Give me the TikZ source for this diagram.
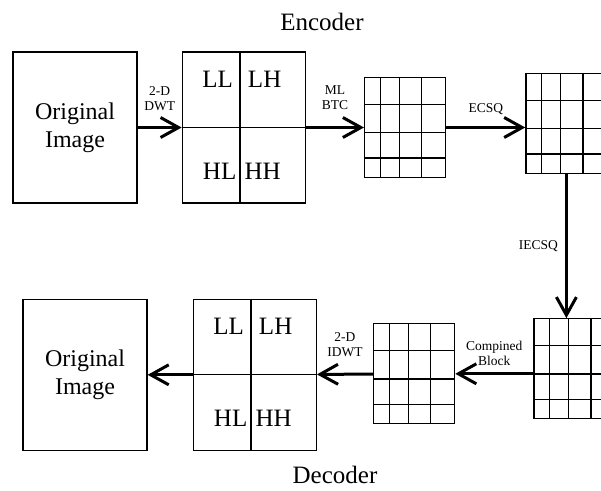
\documentclass[tikz,border=0pt]{standalone}
\usepackage{fontspec}
\setmainfont{Liberation Serif}
\usetikzlibrary{positioning,arrows.meta,calc}

\begin{document}
\begin{tikzpicture}[x=1pt, y=1pt, node distance=40pt,
    img node/.style={rectangle, draw, line width=1.3pt, minimum width=124pt, minimum height=151pt, align=center, font=\fontsize{24}{28}\selectfont},
    band node/.style={rectangle, draw, line width=1.3pt, minimum width=123pt, minimum height=151pt},
    grid node/.style={rectangle, draw, line width=1.3pt, minimum width=81pt, minimum height=100pt},
    flow/.style={-{Straight Barb[length=18pt,width=20pt]}, line width=3pt},
    step label/.style={font=\fontsize{13.5}{15}\selectfont, align=center, inner sep=1pt}]
            \tikzstyle{every node}=[font=\fontsize{25}{30}\selectfont]
            \useasboundingbox (0,0) rectangle (601,-490);

              % encoder row
              \node[img node] (orig1) at (75,-127.5) {Original\\Image};
              \node[band node] (sb1) [right=44pt of orig1] {};
              \node[grid node] (g1) [right=58pt of sb1] {};
              \node[grid node] (g2) [right=79pt of g1, yshift=4pt] {};

              % decoder row
              \node[grid node] (g3) [below=144pt of g2, xshift=8pt] {};
              \node[grid node] (g4) [left=78pt of g3, yshift=-5pt] {};
              \node[band node] (sb2) [left=56pt of g4, yshift=-1pt] {};
              \node[img node] (orig2) [left=45pt of sb2] {Original\\Image};

              \node (enc) at (322,-22) {Encoder};
              \node (dec) at (335,-475) {Decoder};

              % subbands
              \foreach \b in {sb1,sb2} {
                \draw[line width=1.3pt] ($(\b.north west)!0.47!(\b.north east)$) -- ($(\b.south west)!0.47!(\b.south east)$);
                \draw[line width=1.3pt] ($(\b.north west)!0.5!(\b.south west)$) -- ($(\b.north east)!0.5!(\b.south east)$);
                \node (\b-ll) at ($(\b.north west)+(36,-28)$) {LL};
                \node (\b-lh) at ($(\b.north west)+(83,-28)$) {LH};
                \node (\b-hl) at ($(\b.north west)+(38,-120)$) {HL};
                \node (\b-hh) at ($(\b.north west)+(81,-120)$) {HH};
              }

              % block grids
              \foreach \g in {g1,g2,g3,g4} {
                \foreach \f in {0.2,0.43,0.7}
                  \draw[line width=1.3pt] ($(\g.north west)!\f!(\g.north east)$) -- ($(\g.south west)!\f!(\g.south east)$);
                \foreach \f in {0.27,0.55,0.8}
                  \draw[line width=1.3pt] ($(\g.north west)!\f!(\g.south west)$) -- ($(\g.north east)!\f!(\g.south east)$);
              }

              \path[every node/.style={step label}]
                (orig1) edge[flow] node [above=14pt] {2-D\\DWT} (sb1)
                (sb1) edge[flow] node [above=15pt] {ML\\BTC} (g1)
                (g1.east) edge[flow] node [above=10pt] {ECSQ} (g1.east -| g2.west)
                (g2.south) edge[flow] node [left=6pt] {IECSQ} (g2.south |- g3.north)
                (g3.west |- g4.east) edge[flow] node [above=6pt] {Compined\\Block} (g4.east)
                (g4) edge[flow] node [above=15pt] {2-D\\IDWT} (sb2)
                (sb2) edge[flow] (orig2);

            \end{tikzpicture}
\end{document}
